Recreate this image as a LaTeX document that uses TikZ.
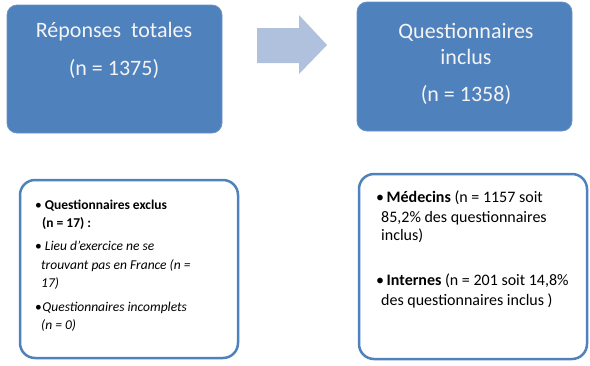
\documentclass[tikz,border=0pt]{standalone}
\usepackage{fontspec}
\setmainfont{Carlito}
\definecolor{boxblue}{HTML}{4F81BD}
\definecolor{arrowblue}{HTML}{B0C1DD}
\definecolor{boxtext}{HTML}{F4F4F4}
\tikzset{
  topbox/.style={draw=boxblue!85!white, line width=0.8pt, fill=boxblue, rounded corners=10pt, inner sep=0pt},
  botbox/.style={draw=boxblue, line width=2.5pt, fill=white, rounded corners=15pt, inner sep=0pt},
  toptext/.style={text=boxtext, font=\fontsize{22}{26}\selectfont, inner sep=0pt, anchor=base},
  bodytext/.style={text=black, font=\fontsize{13.5}{16}\selectfont, inner sep=0pt, anchor=base west},
  bodytextb/.style={text=black, font=\fontsize{16}{19}\selectfont, inner sep=0pt, anchor=base west},
}
\begin{document}
\begin{tikzpicture}[x=1pt,y=-1pt]
\useasboundingbox (0,0) rectangle (590,365);
% top boxes
\node[topbox, minimum width=215pt, minimum height=128pt] (b1) at (114.5,69) {};
\node[topbox, minimum width=215pt, minimum height=129pt] (b2) at (464.5,66.5) {};
% arrow
\fill[arrowblue] (257,28) -- (299,28) -- (299,15) -- (327,45) -- (299,74) -- (299,63) -- (257,63) -- cycle;
% bottom boxes
\node[botbox, minimum width=218pt, minimum height=178pt] (b3) at (129,269) {};
\node[botbox, minimum width=228pt, minimum height=185pt] (b4) at (473,266.5) {};
% top texts
\node[toptext] (t1a) at (114,37) {Réponses\ \ totales};
\node[toptext] (t1b) at (114,75) {(n = 1375)};
\node[toptext] (t2a) at (466,38) {Questionnaires};
\node[toptext] (t2b) at (466,64) {inclus};
\node[toptext] (t2c) at (466,101) {(n = 1358)};
% box 3 texts
\node[bodytext] (l1) at (35,209) {•\kern3pt\textbf{Questionnaires exclus}};
\node[bodytext] (l2) at (42,227) {\textbf{(n = 17) :}};
\node[bodytext] (l3) at (35,250) {•\kern3pt\textit{Lieu d'exercice ne se}};
\node[bodytext] (l4) at (41,269) {\textit{trouvant pas en France (n =}};
\node[bodytext] (l5) at (41,287) {\textit{17)}};
\node[bodytext] (l6) at (35,311) {•\kern0.5pt\textit{Questionnaires incomplets}};
\node[bodytext] (l7) at (41,329) {\textit{(n = 0)}};
% box 4 texts
\node[bodytextb] (m1) at (376,202) {•\kern2.5pt\textbf{Médecins} (n = 1157 soit};
\node[bodytextb] (m2) at (381,222) {85,2\% des questionnaires};
\node[bodytextb] (m3) at (381,240) {inclus)};
\node[bodytextb] (m4) at (376,285) {•\kern2.5pt\textbf{Internes} (n = 201 soit 14,8\%};
\node[bodytextb] (m5) at (381,305) {des questionnaires inclus )};
\end{tikzpicture}
\end{document}
